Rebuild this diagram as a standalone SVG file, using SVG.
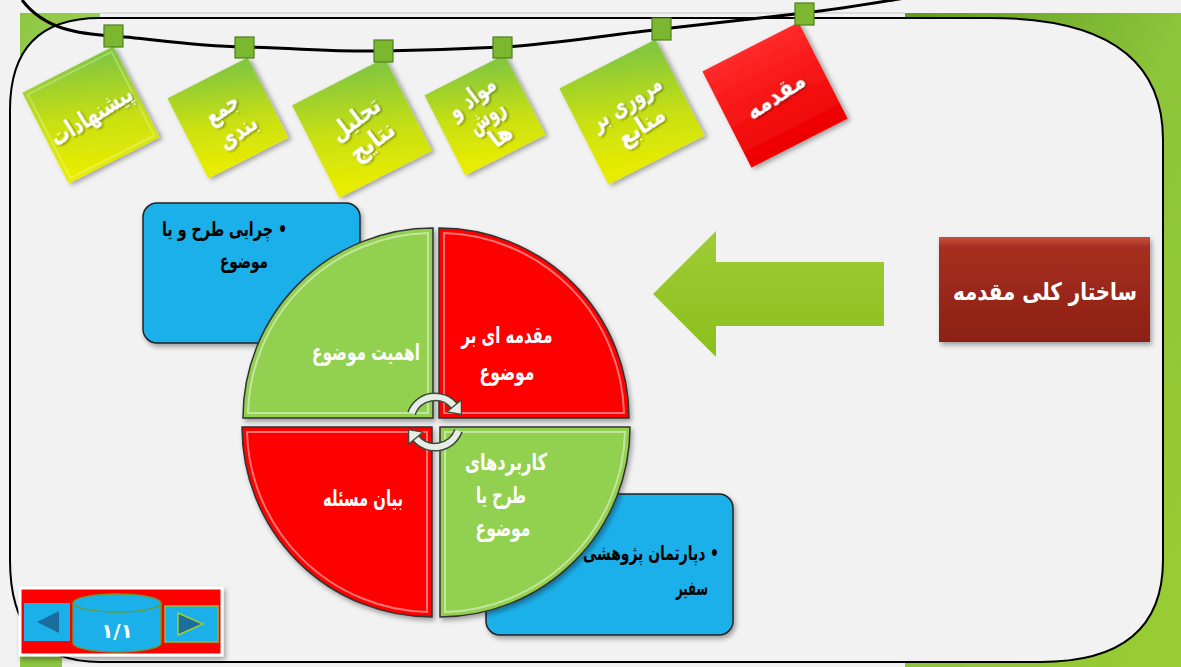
<svg xmlns="http://www.w3.org/2000/svg" width="1181" height="667" viewBox="0 0 1181 667">
<defs>
<style>
.tagt{font-family:"DejaVu Sans",sans-serif;font-weight:bold;font-size:25px;fill:#fff;text-anchor:middle}
.qt{font-family:"DejaVu Sans",sans-serif;font-weight:bold;font-size:23px;fill:#fff;text-anchor:middle}
.bt{font-family:"DejaVu Sans",sans-serif;font-weight:bold;font-size:20px;fill:#000;text-anchor:end}
.btr{font-family:"DejaVu Sans",sans-serif;font-weight:bold;font-size:20px;fill:#000;text-anchor:start;direction:rtl;unicode-bidi:embed}
.pin{fill:#7cb82f;stroke:#4f7f1c;stroke-width:1.2}
.quad{stroke:#333;stroke-width:1.5}
.hl{fill:none;stroke:#fff;stroke-opacity:.45;stroke-width:2}
.arc1{fill:none;stroke:#3b4a3b;stroke-width:9}
.arc2{fill:none;stroke:#e6ece6;stroke-width:6}
.ah{fill:#e6ece6;stroke:#3b4a3b;stroke-width:1.3;stroke-linejoin:round}
</style>
<linearGradient id="gTag" x1="0.7" y1="0" x2="0.3" y2="1">
<stop offset="0" stop-color="#86c83c"/>
<stop offset="0.55" stop-color="#c9e012"/>
<stop offset="1" stop-color="#e8ec00"/>
</linearGradient>
<linearGradient id="gRed" x1="0" y1="0" x2="0" y2="1">
<stop offset="0" stop-color="#ff2a2a"/>
<stop offset="1" stop-color="#ee0000"/>
</linearGradient>
<linearGradient id="gTitle" x1="0" y1="0" x2="0" y2="1">
<stop offset="0" stop-color="#c5503f"/>
<stop offset="0.1" stop-color="#a62f20"/>
<stop offset="1" stop-color="#8c1f14"/>
</linearGradient>
<linearGradient id="gArrow" x1="0" y1="0" x2="0" y2="1">
<stop offset="0" stop-color="#9fcc35"/>
<stop offset="1" stop-color="#8cbf1c"/>
</linearGradient>
<linearGradient id="gSide" x1="0" y1="0" x2="1" y2="1">
<stop offset="0" stop-color="#5f9a1e"/>
<stop offset="0.5" stop-color="#8cc43a"/>
<stop offset="1" stop-color="#9acd32"/>
</linearGradient>
<linearGradient id="gTL" x1="0" y1="0" x2="1" y2="1">
<stop offset="0" stop-color="#8cc63f"/>
<stop offset="1" stop-color="#a8d46a"/>
</linearGradient>
<filter id="sh" x="-20%" y="-20%" width="140%" height="140%">
<feDropShadow dx="2" dy="3" stdDeviation="2.5" flood-color="#000" flood-opacity="0.35"/>
</filter>
<filter id="tsh" x="-20%" y="-20%" width="140%" height="140%">
<feDropShadow dx="1" dy="1.5" stdDeviation="1" flood-color="#000" flood-opacity="0.45"/>
</filter>
</defs>

<rect width="1181" height="667" fill="#f2f2f2"/>

<g id="frame">
<rect x="20" y="13" width="80" height="90" fill="url(#gTL)"/>
<rect x="905" y="13" width="276" height="654" fill="url(#gSide)"/>
<rect x="20" y="655" width="42" height="12" fill="#8cc63f"/>
<line x1="100" y1="13" x2="905" y2="13" stroke="#c8c8c8" stroke-width="1"/>
<path d="M100,18 L990,18 Q1163,18 1163,140 L1163,560 Q1163,662 1040,662 L100,662 Q10,662 10,560 L10,110 Q10,18 100,18 Z" fill="#f2f2f2" stroke="#000" stroke-width="2"/>
</g>

<g id="clothesline">
<path d="M22,0 C45,30 80,34 113,36 S190,46 244,47 S330,52 383,51 S460,49 502,47 S600,36 662,29 S760,18 804,13 S880,2 905,-2" fill="none" stroke="#000" stroke-width="3"/>
</g>

<g id="tag-pishnahadat" transform="translate(91,115) rotate(-27)">
<rect x="-51" y="-51" width="102" height="102" fill="url(#gTag)" filter="url(#sh)"/>
<rect x="-47" y="-47" width="94" height="94" fill="none" stroke="#fff" stroke-opacity="0.25" stroke-width="2"/>
<g transform="rotate(-5)" filter="url(#tsh)"><text class="tagt" x="0" y="9" textLength="92" lengthAdjust="spacingAndGlyphs">پیشنهادات</text></g>
</g>
<g id="tag-jambandi" transform="translate(228,118) rotate(-27)">
<rect x="-45" y="-45" width="90" height="90" fill="url(#gTag)" filter="url(#sh)"/>
<g transform="rotate(-8)" filter="url(#tsh)">
<text class="tagt" x="0" y="-3" textLength="36" lengthAdjust="spacingAndGlyphs">جمع</text>
<text class="tagt" x="0" y="25" textLength="42" lengthAdjust="spacingAndGlyphs">بندی</text>
</g>
</g>
<g id="tag-tahlil" transform="translate(362,128) rotate(-27)">
<rect x="-52" y="-52" width="104" height="104" fill="url(#gTag)" filter="url(#sh)"/>
<g transform="rotate(-10)" filter="url(#tsh)">
<text class="tagt" x="0" y="-3" textLength="56" lengthAdjust="spacingAndGlyphs">تحلیل</text>
<text class="tagt" x="0" y="25" textLength="50" lengthAdjust="spacingAndGlyphs">نتایج</text>
</g>
</g>
<g id="tag-mavad" transform="translate(485,115) rotate(-27)">
<rect x="-45" y="-45" width="90" height="90" fill="url(#gTag)" filter="url(#sh)"/>
<g transform="rotate(-10)" filter="url(#tsh)">
<text class="tagt" x="0" y="-14" textLength="54" lengthAdjust="spacingAndGlyphs">مواد و</text>
<text class="tagt" x="0" y="10" textLength="40" lengthAdjust="spacingAndGlyphs">روش</text>
<text class="tagt" x="0" y="34" textLength="22" lengthAdjust="spacingAndGlyphs">ها</text>
</g>
</g>
<g id="tag-morur" transform="translate(632,112) rotate(-27)">
<rect x="-54" y="-54" width="108" height="108" fill="url(#gTag)" filter="url(#sh)"/>
<g transform="rotate(-6)" filter="url(#tsh)">
<text class="tagt" x="0" y="-3" textLength="80" lengthAdjust="spacingAndGlyphs">مروری بر</text>
<text class="tagt" x="0" y="25" textLength="52" lengthAdjust="spacingAndGlyphs">منابع</text>
</g>
</g>
<g id="tag-moghadame" transform="translate(775,95) rotate(-27)">
<rect x="-54" y="-54" width="108" height="108" fill="url(#gRed)" filter="url(#sh)"/>
<g transform="rotate(-6)" filter="url(#tsh)"><text class="tagt" x="0" y="9" textLength="66" lengthAdjust="spacingAndGlyphs">مقدمه</text></g>
</g>

<g id="pins">
<rect class="pin" x="104" y="25" width="19" height="22"/>
<rect class="pin" x="235" y="37" width="19" height="21"/>
<rect class="pin" x="374" y="40" width="19" height="22"/>
<rect class="pin" x="493" y="37" width="19" height="21"/>
<rect class="pin" x="652" y="18" width="19" height="22"/>
<rect class="pin" x="795" y="3" width="19" height="22"/>
</g>

<g id="box-chera">
<rect x="143" y="203" width="217" height="140" rx="14" fill="#1cb0ea" stroke="#222" stroke-width="1.5" filter="url(#sh)"/>
<text class="btr" x="287" y="236" textLength="125" lengthAdjust="spacingAndGlyphs">• چرایی طرح و یا</text>
<text class="bt" x="268" y="268" textLength="48" lengthAdjust="spacingAndGlyphs">موضوع</text>
</g>

<g id="box-departeman">
<rect x="486" y="494" width="247" height="141" rx="14" fill="#1cb0ea" stroke="#222" stroke-width="1.5" filter="url(#sh)"/>
<text class="btr" x="719" y="560" textLength="136" lengthAdjust="spacingAndGlyphs">• دپارتمان پژوهشی</text>
<text class="bt" x="708" y="595" textLength="32" lengthAdjust="spacingAndGlyphs">سفیر</text>
</g>

<g id="q-ahamiat">
<path class="quad" d="M433,418 L243,418 A190,190 0 0 1 433,228 Z" fill="#92d050" filter="url(#sh)"/>
<path class="hl" d="M428,413 L248,413 A185,185 0 0 1 428,233 Z"/>
<text class="qt" x="366" y="360" textLength="108" lengthAdjust="spacingAndGlyphs">اهمیت موضوع</text>
</g>
<g id="q-moghadame">
<path class="quad" d="M439,418 L439,228 A190,190 0 0 1 629,418 Z" fill="#ff0000" filter="url(#sh)"/>
<path class="hl" d="M444,413 L444,233 A185,185 0 0 1 624,413 Z"/>
<text class="qt" x="507" y="343" textLength="91" lengthAdjust="spacingAndGlyphs">مقدمه ای بر</text>
<text class="qt" x="507" y="380" textLength="55" lengthAdjust="spacingAndGlyphs">موضوع</text>
</g>
<g id="q-bayan">
<path class="quad" d="M432,427 L432,617 A190,190 0 0 1 242,427 Z" fill="#ff0000" filter="url(#sh)"/>
<path class="hl" d="M427,432 L427,612 A185,185 0 0 1 247,432 Z"/>
<text class="qt" x="363" y="506" textLength="80" lengthAdjust="spacingAndGlyphs">بیان مسئله</text>
</g>
<g id="q-karbord">
<path class="quad" d="M440,427 L630,427 A190,190 0 0 1 440,617 Z" fill="#92d050" filter="url(#sh)"/>
<path class="hl" d="M445,432 L625,432 A185,185 0 0 1 445,612 Z"/>
<text class="qt" x="506" y="470" textLength="82" lengthAdjust="spacingAndGlyphs">کاربردهای</text>
<text class="qt" x="501" y="503" textLength="50" lengthAdjust="spacingAndGlyphs">طرح یا</text>
<text class="qt" x="503" y="536" textLength="55" lengthAdjust="spacingAndGlyphs">موضوع</text>
</g>

<g id="connectors">
<path class="arc1" d="M411.5,413.4 A25,25 0 0 1 454.2,405.9"/>
<path class="arc2" d="M411.5,413.4 A25,25 0 0 1 454.2,405.9"/>
<polygon class="ah" points="461.5,414.5 461.3,400 447,411.8"/>
<path class="arc1" d="M458.5,430.6 A25,25 0 0 1 415.8,438.1"/>
<path class="arc2" d="M458.5,430.6 A25,25 0 0 1 415.8,438.1"/>
<polygon class="ah" points="408.5,429.5 408.7,444 423,432.2"/>
<polygon id="big-arrow" points="653,294 716,231 716,262 884,262 884,326 716,326 716,357" fill="url(#gArrow)"/>
</g>

<g id="title">
<rect x="939" y="237" width="211" height="105" fill="url(#gTitle)" filter="url(#sh)"/>
<text x="1045" y="300" font-family="DejaVu Sans, sans-serif" font-weight="bold" font-size="24" fill="#fff" text-anchor="middle" textLength="184" lengthAdjust="spacingAndGlyphs">ساختار کلی مقدمه</text>
</g>

<g id="nav">
<rect x="20" y="588" width="202" height="67" fill="#ff0000" stroke="#fff" stroke-width="3" filter="url(#sh)"/>
<rect x="24" y="603" width="46" height="38" fill="#1cb0ea"/>
<polygon points="37,622 59,611 59,633" fill="#1d6c9e"/>
<path d="M73,603 A44,9 0 0 1 161,603 L161,643 A44,9 0 0 1 73,643 Z" fill="#1cb0ea" stroke="#6a9a2a" stroke-width="1.5"/>
<path d="M73,603 A44,9 0 0 0 161,603" fill="none" stroke="#6a9a2a" stroke-width="1.5"/>
<text x="117" y="638" font-family="DejaVu Sans, sans-serif" font-weight="bold" font-size="20" fill="#fff" text-anchor="middle">۱/۱</text>
<rect x="165" y="606" width="53" height="36" fill="#1cb0ea" stroke="#8fbf30" stroke-width="1.5"/>
<polygon points="178,613 178,635 203,624" fill="#1d6c9e" stroke="#9acd32" stroke-width="1.5"/>
</g>
</svg>
